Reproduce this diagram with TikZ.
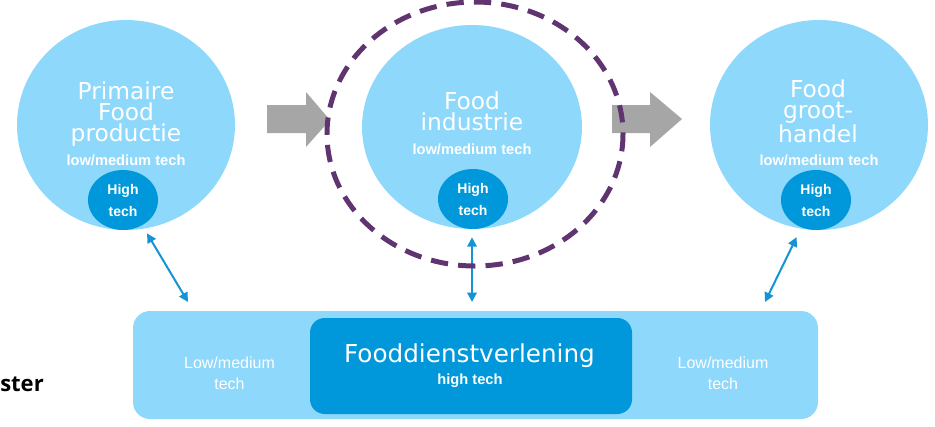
\documentclass[tikz,border=0pt]{standalone}
\usepackage{fontspec}
\usepackage{xcolor}
\usetikzlibrary{shapes.geometric}
\usetikzlibrary{arrows.meta}
\newfontfamily\titlefont{DejaVu Sans}
\newfontfamily\labelfont{Liberation Sans}
\newfontfamily\sidefont{Open Sans}
\definecolor{skyblue}{RGB}{142,216,251}
\definecolor{deepblue}{RGB}{0,152,218}
\definecolor{linkblue}{RGB}{20,148,212}
\definecolor{flowgray}{RGB}{166,166,166}
\definecolor{ringpurple}{RGB}{95,52,112}
\tikzset{
  sector/.style={ellipse, fill=skyblue, inner sep=0pt, minimum width=163.5pt, minimum height=157.5pt},
  hightech/.style={ellipse, fill=deepblue, inner sep=0pt, minimum width=52.5pt, minimum height=45pt, text=white, align=center, font=\labelfont\bfseries\fontsize{10.5}{16.5}\selectfont},
  title/.style={text=white, align=center, inner sep=0pt, font=\titlefont\fontsize{17.5}{15.75}\selectfont},
  subtitle/.style={text=white, inner sep=0pt, anchor=base, font=\labelfont\bfseries\fontsize{11}{13}\selectfont},
  side/.style={text=white, align=center, inner sep=0pt, font=\labelfont\fontsize{12}{15.75}\selectfont},
  link/.style={draw=linkblue, line width=1.5pt, {Triangle[length=7pt,width=7pt]}-{Triangle[length=7pt,width=7pt]}},
  flow/.style={fill=flowgray},
  ring/.style={draw=ringpurple, line width=3.75pt, dash pattern=on 13pt off 7.6pt},
}
\begin{document}
\begin{tikzpicture}[x=0.75pt,y=0.75pt,yscale=-1,xscale=1]
\path[use as bounding box] (0,0) rectangle (935,426);

%Shape: Circle
\node[sector] (prim) at (126,125) {};
\node[sector, minimum height=153pt, minimum width=165pt] (ind) at (472,127) {};
\node[sector] (grot) at (819,125) {};
%Shape: Circle
\node[hightech] (primHigh) at (123,200) {High\\tech};
\node[hightech] (indHigh) at (473,199) {High\\tech};
\node[hightech] (grotHigh) at (816,200) {High\\tech};

%Shape: Right Arrow
\fill[flow] (267,105) -- (306,105) -- (306,92) -- (330,120) -- (306,147) -- (306,133) -- (267,133) -- cycle;
\fill[flow] (612,105) -- (650,105) -- (650,92) -- (682,119) -- (650,147) -- (650,133) -- (612,133) -- cycle;

%Shape: Rounded Rect
\node[fill=skyblue, rounded corners=12.75pt, minimum width=513.75pt, minimum height=81pt] (serv) at (475.5,365) {};
\node[fill=deepblue, rounded corners=11pt, minimum width=241.5pt, minimum height=72pt] (core) at (471,366) {};

%Straight Lines
\coordinate (l1) at (188,302);
\coordinate (l2) at (472,302);
\coordinate (l3) at (765,302);
\draw[link, shorten <=4pt] (prim.-80) -- (l1);
\draw[link, shorten <=6pt] (ind.south) -- (l2);
\draw[link, shorten <=7pt] (grot.-100) -- (l3);

%Shape: Ellipse
\draw[ring] (475,134) ellipse [x radius=148, y radius=132];

% Text Node
\node[title] (primName) at (126,114) {Primaire\\Food\\productie};
% Text Node
\node[title] (indName) at (472,111) {Food\\industrie};
% Text Node
\node[title] (grotName) at (818,111) {Food\\groot-\\handel};
% Text Node
\node[subtitle] (primSub) at (126,165) {low/medium tech};
% Text Node
\node[subtitle] (indSub) at (472,154) {low/medium tech};
% Text Node
\node[subtitle] (grotSub) at (819,165) {low/medium tech};
% Text Node
\node[title, font=\titlefont\fontsize{18.5}{15}\selectfont, anchor=base] (servName) at (469.5,362) {Fooddienstverlening};
% Text Node
\node[subtitle] (servSub) at (470,384) {high tech};
% Text Node
\node[side] (leftTech) at (229.5,373) {Low/medium\\tech};
% Text Node
\node[side] (rightTech) at (723,373) {Low/medium\\tech};
% Text Node
\node[anchor=base west, inner sep=0pt, font=\sidefont\bfseries\fontsize{16.5}{18}\selectfont] (clus) at (0,391) {ster};

\end{tikzpicture}
\end{document}
